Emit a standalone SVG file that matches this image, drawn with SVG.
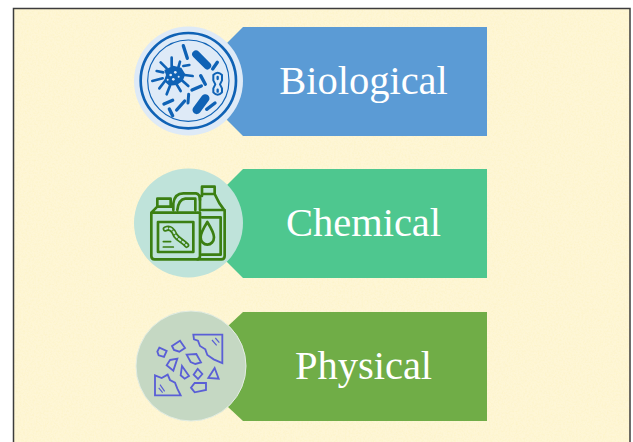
<svg xmlns="http://www.w3.org/2000/svg" width="633" height="442" viewBox="0 0 633 442">
<style>
.lbl{font-family:"Liberation Serif","Times New Roman",serif;font-size:40.500px;fill:#fff;text-anchor:middle}
.b{fill:none;stroke:#0F62B5;stroke-linecap:round;stroke-linejoin:round}
.bf{fill:#0F62B5}
.c{fill:none;stroke:#3B7F12;stroke-width:8;stroke-linejoin:round;stroke-linecap:round}
.c2{fill:none;stroke:#3B7F12;stroke-width:5;stroke-linecap:round}
.p{fill:none;stroke:#5A5FD6;stroke-width:5.500;stroke-linejoin:miter}
.p2{fill:none;stroke:#5A5FD6;stroke-width:3.500}
</style>
<defs>
<filter id="tex" x="0" y="0" width="100%" height="100%">
<feTurbulence type="fractalNoise" baseFrequency="0.55" numOctaves="2" seed="3"/>
<feColorMatrix values="0 0 0 0 0.98  0 0 0 0 0.90  0 0 0 0 0.58  2.2 0 0 0 -0.8"/>
</filter>
</defs>
<rect width="633" height="442" fill="#fff"/>
<g id="background">
<rect x="13" y="8" width="617" height="434" fill="#FEF6D6"/>
<rect x="13" y="8" width="617" height="434" filter="url(#tex)" opacity="0.8"/>
<path d="M13.500 442V8.500H630V442" fill="none" stroke="#3c3c3c" stroke-width="1.500"/>
</g>
<g id="biological">
<path d="M243 27H487V136H243L226 119V44Z" fill="#5B9BD5"/>
<circle cx="188.500" cy="81" r="54.500" fill="#DEEAF7"/>
<g transform="translate(120 15) scale(.3333)">
<circle cx="205" cy="197" r="143" class="b" stroke-width="8"/>
<circle cx="205" cy="197" r="122" class="b" stroke-width="3.500"/>
<path d="M133 165L160 152L184 158L196 178L188 198L170 210L148 212L132 198L138 180Z" class="bf"/>
<circle cx="152" cy="180" r="4" fill="#DEEAF7"/><circle cx="166" cy="172" r="4" fill="#DEEAF7"/><circle cx="160" cy="193" r="4" fill="#DEEAF7"/><circle cx="143" cy="194" r="3" fill="#DEEAF7"/><circle cx="176" cy="185" r="3" fill="#DEEAF7"/>
<path d="M122 142L140 160M155 128V155M180 140L175 158M190 153L208 150M194 180L218 183M188 198L205 213M170 208L182 228M150 212L140 238M135 198L118 220M128 190L97 198M130 172L110 168" class="b" stroke-width="8"/>
<path d="M190 92L202 130" class="b" stroke-width="10"/>
<path d="M228 118L262 152" class="b" stroke-width="23"/>
<path d="M292 142L278 162" class="b" stroke-width="10"/>
<path d="M242 182L256 208" class="b" stroke-width="10"/>
<path d="M244 213L216 225" class="b" stroke-width="10"/>
<path d="M206 238L204 264" class="b" stroke-width="9"/>
<path d="M194 258L170 285" class="b" stroke-width="10"/>
<path d="M158 256L132 267" class="b" stroke-width="10"/>
<path d="M148 282L158 302" class="b" stroke-width="10"/>
<path d="M256 250L230 285" class="b" stroke-width="25"/>
<path d="M285 264L260 283" class="b" stroke-width="10"/>
<path d="M280 180Q293 166 306 180V196L300 208L306 220V232Q293 246 280 232V220L286 208L280 196Z" class="b" stroke-width="6"/>
<path d="M293 186V192M293 224V230" class="b" stroke-width="7"/>
</g>
<text class="lbl" x="363.500" y="94">Biological</text>
</g>
<g id="chemical">
<path d="M243 169H487V278H243L226 261V186Z" fill="#4EC78F"/>
<circle cx="188.500" cy="223" r="54.500" fill="#BFE3DA"/>
<g transform="translate(120 160) scale(.3333)">
<path d="M94 158L112 140H160M112 140V116H152V140M160 150V130Q164 100 190 100H228Q240 102 240 120V150M172 150Q176 118 196 116H226V150M94 158H240V288Q240 298 230 298H104Q94 298 94 288Z" class="c"/>
<path d="M114 186H220V276H114Z" class="c"/>
<path d="M240 120V108H246V80H284V102H246M284 102Q296 130 314 152V288Q314 298 304 298H232M246 150H314M246 172H302V284H246" class="c"/>
<path d="M262 186Q242 218 242 232A20 22 0 0 0 282 232Q282 218 262 186Z" class="c"/>
<path d="M136 207C150 200 160 210 166 226C176 240 190 244 200 256" fill="none" stroke="#3B7F12" stroke-width="16" stroke-linecap="round"/>
<path d="M136 207C150 200 160 210 166 226C176 240 190 244 200 256" fill="none" stroke="#BFE3DA" stroke-width="6" stroke-linecap="round" stroke-dasharray="6 8"/>
<path d="M130 245H152M130 261H160" class="c2"/>
</g>
<text class="lbl" x="363.500" y="236">Chemical</text>
</g>
<g id="physical">
<path d="M243 312H487V421H243L228 407V326Z" fill="#70AD47"/>
<circle cx="191" cy="366" r="55" fill="#C5D8C3" stroke="#E3EDE3" stroke-width="1"/>
<g transform="translate(120 300) scale(.3333)">
<path d="M220 104H307V189L281 178L262 165L256 148L240 138L234 122L222 118Z" class="p"/>
<path d="M276 120L290 136M286 114L298 128" class="p2"/>
<path d="M105 226L125 234L143 224L150 240L165 248L172 266L182 286H105Z" class="p"/>
<path d="M120 254L134 274M116 264L128 278" class="p2"/>
<path d="M118 143L140 153L132 171L116 166L112 155Z" class="p"/>
<path d="M156 138L180 122L195 144L178 155L162 150Z" class="p"/>
<path d="M200 164L229 162L243 187L226 192L212 186Z" class="p"/>
<path d="M150 180L172 176L160 212L140 196Z" class="p"/>
<path d="M186 198L207 228L194 236L182 226Z" class="p"/>
<path d="M233 207L247 222L234 237L221 224Z" class="p"/>
<path d="M284 204L296 236L265 234Z" class="p"/>
<path d="M224 249L258 249L258 270L224 277L213 263Z" class="p"/>
</g>
<text class="lbl" x="363.500" y="379">Physical</text>
</g>
</svg>
